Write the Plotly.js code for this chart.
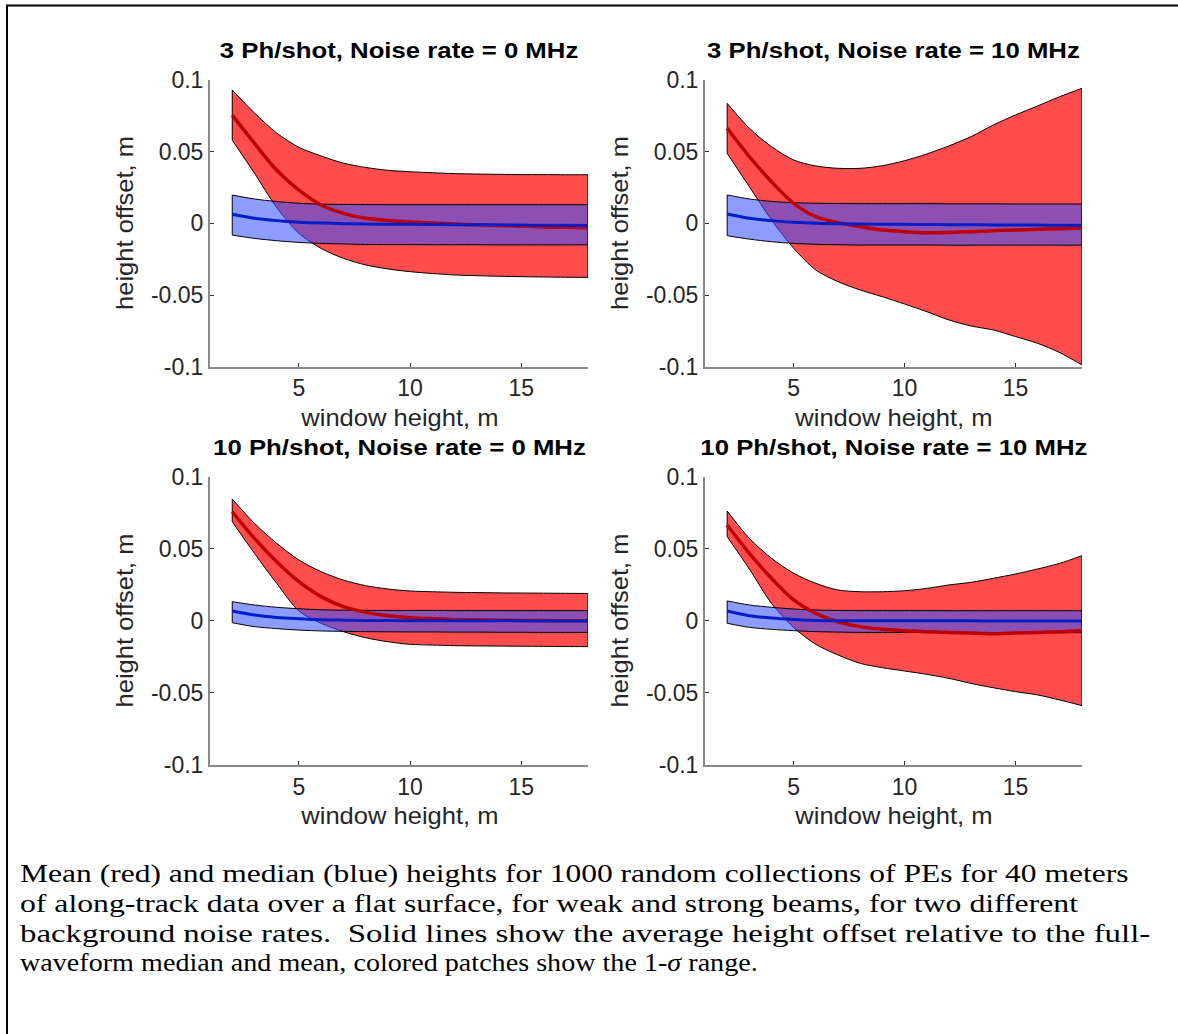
<!DOCTYPE html>
<html>
<head>
<meta charset="utf-8">
<script src="https://cdn.plot.ly/plotly-3.0.1.min.js"></script>
<style>
  html, body { margin: 0; padding: 0; background: #fff; }
  #chart { width: 1178px; height: 1034px; }
</style>
</head>
<body>
<div id="chart"></div>
<script>
// window height, m
const windowHeight = [2,3,4,5,6,7,8,9,10,11,12,13,14,15,16,17,18];

// Panel titles
const panelTitles = [
  "3 Ph/shot, Noise rate = 0 MHz",
  "3 Ph/shot, Noise rate = 10 MHz",
  "10 Ph/shot, Noise rate = 0 MHz",
  "10 Ph/shot, Noise rate = 10 MHz"
];

// Panel 1: 3 Ph/shot, 0 MHz
const p1MeanUpper = [0.093,0.077,0.063,0.053,0.047,0.042,0.039,0.037,0.036,0.0353,0.0347,0.0344,0.0342,0.034,0.034,0.0339,0.0339];
const p1MeanLower = [0.058,0.035,0.011,-0.007,-0.0175,-0.0244,-0.029,-0.0318,-0.0337,-0.035,-0.036,-0.0365,-0.0369,-0.0372,-0.0374,-0.0376,-0.0377];
const p1Mean      = [0.0755,0.0558,0.037,0.0232,0.0128,0.007,0.0035,0.002,0.001,0.0002,-0.0005,-0.001,-0.0015,-0.002,-0.0025,-0.0028,-0.003];
const p1MedUpper  = [0.0197,0.017,0.0152,0.014,0.0134,0.0132,0.0131,0.013,0.013,0.013,0.013,0.013,0.013,0.013,0.013,0.013,0.013];
const p1MedLower  = [-0.0082,-0.0105,-0.0121,-0.0133,-0.014,-0.0144,-0.0147,-0.0148,-0.0148,-0.0149,-0.0149,-0.0149,-0.015,-0.015,-0.015,-0.015,-0.015];
const p1Median    = [0.0063,0.0035,0.0019,0.0008,0.0002,-0.0002,-0.0005,-0.0006,-0.0007,-0.0008,-0.0009,-0.001,-0.0011,-0.0012,-0.0013,-0.0014,-0.0015];

// Panel 2: 3 Ph/shot, 10 MHz
const p2MeanUpper = [0.0837,0.0663,0.0535,0.0442,0.040,0.0384,0.0384,0.0402,0.0437,0.0484,0.054,0.0605,0.0686,0.0756,0.0819,0.0884,0.0942];
const p2MeanLower = [0.0488,0.0256,0.0023,-0.0174,-0.0326,-0.0407,-0.0465,-0.0512,-0.0563,-0.0616,-0.0674,-0.0716,-0.0744,-0.079,-0.0837,-0.0902,-0.0988];
const p2Mean      = [0.0663,0.0465,0.029,0.014,0.0047,0.0005,-0.0023,-0.0047,-0.0058,-0.0065,-0.0063,-0.0058,-0.0051,-0.0047,-0.0042,-0.0037,-0.0033];
const p2MedUpper  = [0.0198,0.017,0.0153,0.0144,0.014,0.0138,0.0137,0.0137,0.0137,0.0137,0.0136,0.0136,0.0136,0.0135,0.0135,0.0135,0.0135];
const p2MedLower  = [-0.0086,-0.011,-0.0128,-0.014,-0.0146,-0.0149,-0.0151,-0.0151,-0.0151,-0.0151,-0.0152,-0.0152,-0.0152,-0.0152,-0.0152,-0.0152,-0.0152];
const p2Median    = [0.0065,0.0035,0.0019,0.0007,0.0,-0.0003,-0.0005,-0.0006,-0.0007,-0.0008,-0.0009,-0.001,-0.0011,-0.0012,-0.0012,-0.0013,-0.0014];

// Panel 3: 10 Ph/shot, 0 MHz
const p3MeanUpper = [0.0845,0.0676,0.0538,0.0422,0.0341,0.0283,0.0244,0.0221,0.0207,0.0202,0.0198,0.0196,0.0194,0.0193,0.0192,0.0191,0.019];
const p3MeanLower = [0.0688,0.0468,0.026,0.0068,-0.0017,-0.0075,-0.0117,-0.0145,-0.0163,-0.0168,-0.0172,-0.0174,-0.0175,-0.0176,-0.0177,-0.0178,-0.0179];
const p3Mean      = [0.0757,0.0572,0.041,0.0272,0.0168,0.0098,0.0059,0.0036,0.0022,0.0015,0.001,0.0007,0.0005,0.0003,0.0002,0.0001,0.0001];
const p3MedUpper  = [0.0133,0.011,0.0094,0.0084,0.0077,0.0074,0.0073,0.0072,0.0072,0.0072,0.0071,0.0071,0.0071,0.0071,0.0071,0.0071,0.0071];
const p3MedLower  = [-0.0013,-0.004,-0.0054,-0.0064,-0.007,-0.0073,-0.0075,-0.0076,-0.0077,-0.0077,-0.0078,-0.0078,-0.0079,-0.0079,-0.008,-0.008,-0.008];
const p3Median    = [0.0068,0.004,0.0024,0.0015,0.0008,0.0005,0.0003,0.0002,0.0001,0.0001,0.0,0.0,0.0,0.0,-0.0001,-0.0001,-0.0001];

// Panel 4: 10 Ph/shot, 10 MHz
const p4MeanUpper = [0.0762,0.0572,0.0434,0.033,0.026,0.0214,0.0202,0.0202,0.0209,0.0225,0.0249,0.0267,0.0295,0.0325,0.036,0.0399,0.0452];
const p4MeanLower = [0.0584,0.036,0.0121,-0.0047,-0.0163,-0.0237,-0.0295,-0.0325,-0.0348,-0.0371,-0.0399,-0.0434,-0.0464,-0.0491,-0.0514,-0.0549,-0.0588];
const p4Mean      = [0.0665,0.0468,0.0295,0.0145,0.0052,-0.0006,-0.004,-0.0059,-0.0068,-0.0075,-0.008,-0.0084,-0.0089,-0.0084,-0.008,-0.0075,-0.0068];
const p4MedUpper  = [0.0138,0.011,0.0094,0.0082,0.0075,0.0072,0.0071,0.0071,0.0071,0.0071,0.007,0.007,0.007,0.007,0.007,0.007,0.007];
const p4MedLower  = [-0.0017,-0.0045,-0.0059,-0.0068,-0.0075,-0.0078,-0.008,-0.008,-0.0081,-0.0081,-0.0081,-0.0082,-0.0082,-0.0082,-0.0082,-0.0082,-0.0082];
const p4Median    = [0.0068,0.0036,0.002,0.001,0.0003,0.0001,0.0001,0.0,0.0,0.0,0.0,0.0,-0.0001,-0.0001,-0.0001,-0.0001,-0.0001];

const xTicks = [5,10,15];
const yTicks = [-0.1,-0.05,0,0.05,0.1];
const yTickText = ["-0.1","-0.05","0","0.05","0.1"];

const captionLines = [
  "Mean (red) and median (blue) heights for 1000 random collections of PEs for 40 meters",
  "of along-track data over a flat surface, for weak and strong beams, for two different",
  "background noise rates.\u00a0 Solid lines show the average height offset relative to the full-",
  "waveform median and mean, colored patches show the 1-<i>σ</i> range."
];

const panels = [
  {mu:p1MeanUpper, ml:p1MeanLower, m:p1Mean, bu:p1MedUpper, bl:p1MedLower, b:p1Median},
  {mu:p2MeanUpper, ml:p2MeanLower, m:p2Mean, bu:p2MedUpper, bl:p2MedLower, b:p2Median},
  {mu:p3MeanUpper, ml:p3MeanLower, m:p3Mean, bu:p3MedUpper, bl:p3MedLower, b:p3Median},
  {mu:p4MeanUpper, ml:p4MeanLower, m:p4Mean, bu:p4MedUpper, bl:p4MedLower, b:p4Median}
];

const W = 1178, H = 1034;
const px = v => v / W;
const py = v => 1 - v / H;

// pixel boxes [left, right, top, bottom]
const boxes = [
  [210, 588, 80, 366.7],
  [705, 1082, 80, 366.7],
  [210, 588, 476.7, 765],
  [705, 1082, 476.7, 765]
];

const RED_FILL = "rgb(255,77,77)";
const BLUE_FILL = "rgba(54,82,255,0.57)";
const RED_LINE = "rgb(190,0,0)";
const BLUE_LINE = "rgb(0,30,200)";
const spl = {shape: "spline", smoothing: 0.8};

const traces = [];
panels.forEach((p, i) => {
  const xa = i === 0 ? "x" : "x" + (i + 1);
  const ya = i === 0 ? "y" : "y" + (i + 1);
  const n = windowHeight.length;
  const x0 = windowHeight[0], x1 = windowHeight[n - 1];
  // red patch
  traces.push({x: windowHeight, y: p.ml, xaxis: xa, yaxis: ya, mode: "lines",
    line: Object.assign({color: "black", width: 1}, spl), hoverinfo: "skip"});
  traces.push({x: windowHeight, y: p.mu, xaxis: xa, yaxis: ya, mode: "lines", fill: "tonexty",
    fillcolor: RED_FILL, line: Object.assign({color: "black", width: 1}, spl), hoverinfo: "skip"});
  traces.push({x: [x0, x0], y: [p.ml[0], p.mu[0]], xaxis: xa, yaxis: ya, mode: "lines",
    line: {color: "black", width: 1}, hoverinfo: "skip"});
  traces.push({x: [x1, x1], y: [p.ml[n-1], p.mu[n-1]], xaxis: xa, yaxis: ya, mode: "lines",
    line: {color: "black", width: 1}, hoverinfo: "skip"});
  // blue patch
  traces.push({x: windowHeight, y: p.bl, xaxis: xa, yaxis: ya, mode: "lines",
    line: Object.assign({color: "black", width: 1}, spl), hoverinfo: "skip"});
  traces.push({x: windowHeight, y: p.bu, xaxis: xa, yaxis: ya, mode: "lines", fill: "tonexty",
    fillcolor: BLUE_FILL, line: Object.assign({color: "black", width: 1}, spl), hoverinfo: "skip"});
  traces.push({x: [x0, x0], y: [p.bl[0], p.bu[0]], xaxis: xa, yaxis: ya, mode: "lines",
    line: {color: "black", width: 1}, hoverinfo: "skip"});
  traces.push({x: [x1, x1], y: [p.bl[n-1], p.bu[n-1]], xaxis: xa, yaxis: ya, mode: "lines",
    line: {color: "black", width: 1}, hoverinfo: "skip"});
  // mean and median lines
  traces.push({x: windowHeight, y: p.m, xaxis: xa, yaxis: ya, mode: "lines",
    line: Object.assign({color: RED_LINE, width: 3.5}, spl), hoverinfo: "skip"});
  traces.push({x: windowHeight, y: p.b, xaxis: xa, yaxis: ya, mode: "lines",
    line: Object.assign({color: BLUE_LINE, width: 3}, spl), hoverinfo: "skip"});
});

const FONT = "Liberation Sans, Arial, Helvetica, sans-serif";
const layout = {
  width: W, height: H,
  margin: {l: 0, r: 0, t: 0, b: 0},
  paper_bgcolor: "white", plot_bgcolor: "rgba(0,0,0,0)",
  showlegend: false,
  font: {family: FONT, color: "#262626"},
  annotations: [],
  shapes: [
    {type: "line", xref: "paper", yref: "paper", x0: px(6), x1: px(1178), y0: py(5.5), y1: py(5.5),
      line: {color: "black", width: 2}},
    {type: "line", xref: "paper", yref: "paper", x0: px(7), x1: px(7), y0: py(5), y1: py(1034),
      line: {color: "black", width: 2}}
  ]
};

// horizontal stretch per annotation (presentation only)
const annStretch = [];

boxes.forEach((b, i) => {
  const sfx = i === 0 ? "" : String(i + 1);
  layout["xaxis" + sfx] = {
    domain: [px(b[0]), px(b[1])], anchor: "y" + sfx, range: [1, 18],
    showline: true, linecolor: "#8a8a8a", linewidth: 2, mirror: false,
    showgrid: false, zeroline: false,
    ticks: "inside", ticklen: 4, tickwidth: 1, tickcolor: "#333",
    tickmode: "array", tickvals: xTicks, ticktext: xTicks.map(String),
    tickfont: {family: FONT, size: 23, color: "#262626"}
  };
  layout["yaxis" + sfx] = {
    domain: [py(b[3]), py(b[2])], anchor: "x" + sfx, range: [-0.1, 0.1],
    showline: true, linecolor: "#8a8a8a", linewidth: 2, mirror: false,
    showgrid: false, zeroline: false,
    ticks: "inside", ticklen: 4, tickwidth: 1, tickcolor: "#333",
    tickmode: "array", tickvals: yTicks, ticktext: yTickText,
    tickfont: {family: FONT, size: 23, color: "#262626"}
  };
  const cx = (b[0] + b[1]) / 2;
  layout.annotations.push({
    text: "<b>" + panelTitles[i] + "</b>", xref: "paper", yref: "paper",
    x: px(cx), y: py(b[2] - 30), xanchor: "center", yanchor: "middle", showarrow: false,
    font: {family: FONT, size: 23, color: "#000"}
  });
  annStretch.push({s: 1.12, anchor: "center"});
  layout.annotations.push({
    text: "window height, m", xref: "paper", yref: "paper",
    x: px(cx), y: py(b[3] + 51), xanchor: "center", yanchor: "middle", showarrow: false,
    font: {family: FONT, size: 23, color: "#262626"}
  });
  annStretch.push({s: 1.11, anchor: "center"});
  layout.annotations.push({
    text: "height offset, m", xref: "paper", yref: "paper",
    x: px(b[0] - 85), y: py((b[2] + b[3]) / 2), xanchor: "center", yanchor: "middle",
    textangle: -90, showarrow: false,
    font: {family: FONT, size: 23, color: "#262626"}
  });
  annStretch.push({s: 1.11, anchor: "center"});
});

const capY = [873, 903, 933, 962];
const capRight = [1128, 1078, 1150, 757];
captionLines.forEach((t, i) => {
  layout.annotations.push({
    text: t, xref: "paper", yref: "paper", x: px(18), y: py(capY[i]),
    xanchor: "left", yanchor: "middle", showarrow: false, align: "left",
    font: {family: "Liberation Serif, Times New Roman, serif", size: 26, color: "#000"}
  });
  annStretch.push({width: capRight[i] - 19, anchor: "left"});
});

Plotly.newPlot("chart", traces, layout, {staticPlot: true, displayModeBar: false}).then(gd => {
  gd.querySelectorAll("g.annotation").forEach(g => {
    const idx = +g.getAttribute("data-index");
    const spec = annStretch[idx];
    const t = g.querySelector("text.annotation-text");
    if (!spec || !t) return;
    const bb = t.getBBox();
    const s = spec.width ? spec.width / bb.width : spec.s;
    const ax = spec.anchor === "left" ? bb.x : bb.x + bb.width / 2;
    const prev = t.getAttribute("transform") || "";
    t.setAttribute("transform", prev + " translate(" + ax + ",0) scale(" + s + ",1) translate(" + (-ax) + ",0)");
  });
});
</script>
</body>
</html>
